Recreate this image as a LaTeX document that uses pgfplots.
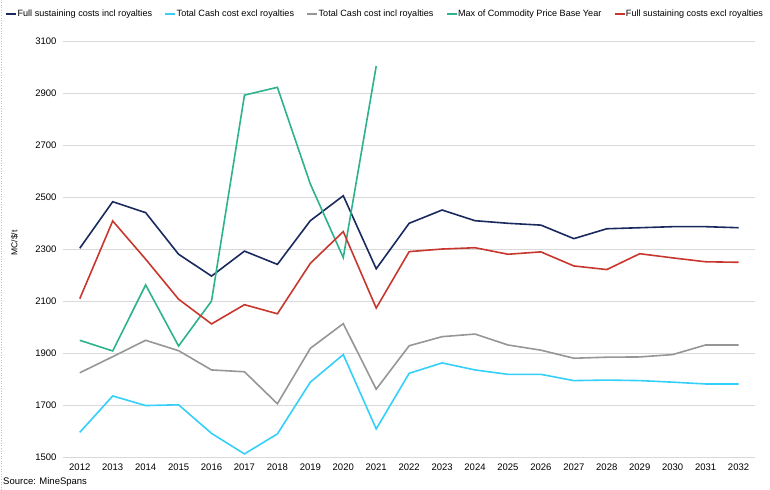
\documentclass[border=0pt]{standalone}
\usepackage{pgfplots}
\pgfplotsset{compat=1.18}
\usepackage{fontspec}
\setmainfont{Liberation Sans}

\definecolor{navyline}{RGB}{27,42,94}
\definecolor{cyanline}{RGB}{52,208,250}
\definecolor{grayline}{RGB}{150,150,150}
\definecolor{tealline}{RGB}{44,178,140}
\definecolor{redline}{RGB}{200,55,45}
\definecolor{gridgray}{RGB}{217,217,217}

\begin{document}
\fontsize{9.5bp}{11bp}\selectfont
\begin{tikzpicture}
\begin{axis}[
    at={(63.3bp,32.7bp)}, anchor=south west,
    scale only axis,
    width=691.7bp, height=416bp,
    xmin=2011.5, xmax=2032.5,
    ymin=1500, ymax=3100,
    xtick={2012,2013,...,2032},
    ytick={1500,1700,...,3100},
    /pgf/number format/1000 sep={},
    /pgf/number format/assume math mode=true,
    ticklabel style={font=\fontsize{9.5bp}{11bp}\selectfont},
    xticklabel style={yshift=-3.5bp},
    yticklabel style={xshift=-3.5bp},
    axis line style={draw=none},
    tick style={draw=none},
    ymajorgrids,
    major grid style={gridgray, line width=0.8bp},
    ylabel={MC/\$/t},
    ylabel style={at={(axis description cs:-0.0706,0.515)}, anchor=center,
                  font=\fontsize{8.5bp}{10bp}\selectfont},
    legend columns=5,
    legend style={at={(axis description cs:0.4644,1.066)}, anchor=center,
                  draw=none, fill=none, font=\fontsize{9.1bp}{10bp}\selectfont,
                  inner sep=0pt,
                  /tikz/every even column/.append style={column sep=12bp},
                  nodes={inner sep=0.5bp}},
    legend image code/.code={\draw[#1] (0bp,0bp) -- (10bp,0bp);},
    every axis plot/.append style={line width=1.6bp, mark=none},
]
\addplot[navyline] coordinates {
    (2012,2304) (2013,2483) (2014,2441) (2015,2281) (2016,2197) (2017,2293)
    (2018,2242) (2019,2410) (2020,2506) (2021,2225) (2022,2400) (2023,2451)
    (2024,2410) (2025,2400) (2026,2393) (2027,2341) (2028,2379) (2029,2383)
    (2030,2387) (2031,2387) (2032,2383)
};
\addplot[cyanline] coordinates {
    (2012,1596) (2013,1736) (2014,1699) (2015,1702) (2016,1592) (2017,1513)
    (2018,1590) (2019,1789) (2020,1895) (2021,1609) (2022,1823) (2023,1863)
    (2024,1836) (2025,1819) (2026,1819) (2027,1795) (2028,1797) (2029,1795)
    (2030,1789) (2031,1782) (2032,1782)
};
\addplot[grayline] coordinates {
    (2012,1825) (2013,1887) (2014,1950) (2015,1910) (2016,1836) (2017,1829)
    (2018,1706) (2019,1919) (2020,2014) (2021,1762) (2022,1929) (2023,1964)
    (2024,1974) (2025,1932) (2026,1912) (2027,1881) (2028,1885) (2029,1886)
    (2030,1895) (2031,1932) (2032,1932)
};
\addplot[tealline] coordinates {
    (2012,1950) (2013,1909) (2014,2163) (2015,1928) (2016,2101) (2017,2893)
    (2018,2923) (2019,2551) (2020,2268) (2021,3005)
};
\addplot[redline] coordinates {
    (2012,2110) (2013,2409) (2014,2262) (2015,2108) (2016,2013) (2017,2087)
    (2018,2052) (2019,2246) (2020,2368) (2021,2074) (2022,2291) (2023,2301)
    (2024,2306) (2025,2281) (2026,2290) (2027,2236) (2028,2222) (2029,2283)
    (2030,2267) (2031,2252) (2032,2250)
};
\legend{Full sustaining costs incl royalties, Total Cash cost excl royalties,
        Total Cash cost incl royalties, Max of Commodity Price Base Year,
        Full sustaining costs excl royalties}
\end{axis}
\node[anchor=west, inner sep=0pt, font=\fontsize{9.5bp}{11bp}\selectfont] at (3bp,8bp) {Source: MineSpans};
\draw[gray!50, dotted, line width=0.6bp] (0.8bp,0bp) -- (0.8bp,490bp);
\pgfresetboundingbox
\path (0bp,0bp) rectangle (770bp,490bp);
\end{tikzpicture}
\end{document}
